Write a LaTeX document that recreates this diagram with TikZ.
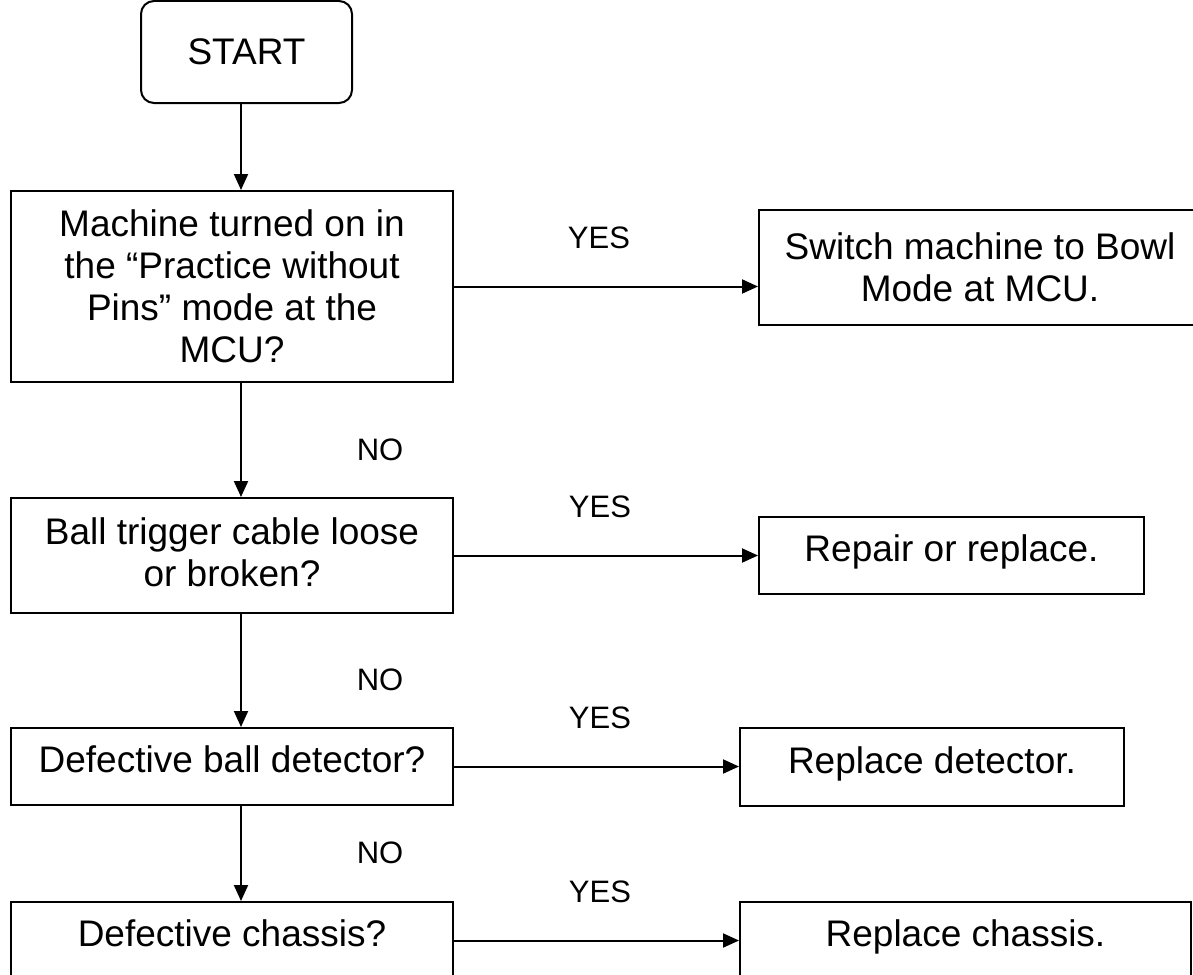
\documentclass[tikz,border=0pt]{standalone}
\usepackage{fontspec}
\setmainfont{Liberation Sans}
\usetikzlibrary{arrows.meta}
\begin{document}
\begin{tikzpicture}[x=1pt,y=-1pt,
  box/.style={draw, line width=2pt, inner sep=0pt, align=center,
    font=\fontsize{37}{42}\selectfont},
  one/.style={text height=30pt, text depth=18pt},
  lbl/.style={inner sep=0pt, font=\fontsize{31}{36}\selectfont},
  arr/.style={line width=2pt, -{Triangle[length=16pt,width=14pt]}}]
\useasboundingbox (0,0) rectangle (1193,974);
\begin{scope}
\clip (0,0) rectangle (1193,974);
\node[box, rounded corners=13pt, minimum width=211pt, minimum height=102pt] (start) at (246.5,52) {START};
\node[box, minimum width=442pt, minimum height=191pt] (b1) at (232,286.5)
  {Machine turned on in\\the “Practice without\\Pins” mode at the\\MCU?};
\node[box, minimum width=442pt, minimum height=115pt] (sw) at (980,267.5)
  {Switch machine to Bowl\\Mode at MCU.};
\node[box, minimum width=442pt, minimum height=115pt] (b2) at (232,555.5)
  {Ball trigger cable loose\\or broken?\rule[-6pt]{0pt}{6pt}};
\node[box, one, minimum width=385pt, minimum height=77pt] (r2) at (951.5,555.5)
  {Repair or replace.};
\node[box, one, minimum width=442pt, minimum height=77pt] (b3) at (232,766.5)
  {Defective ball detector?};
\node[box, one, minimum width=384pt, minimum height=78pt] (r3) at (932,767)
  {Replace detector.};
\node[box, one, minimum width=442pt, minimum height=77pt] (b4) at (232,940.5)
  {Defective chassis?};
\node[box, one, minimum width=451pt, minimum height=77pt] (r4) at (965.5,940.5)
  {Replace chassis.};

\draw[arr] ([xshift=-5.5pt]start.south) -- ([xshift=9pt]b1.north);
\draw[arr] (b1.east) -- (b1.east -| sw.west);
\draw[arr] ([xshift=9pt]b1.south) -- ([xshift=9pt]b2.north);
\draw[arr] (b2.east) -- (r2.west);
\draw[arr] ([xshift=9pt]b2.south) -- ([xshift=9pt]b3.north);
\draw[arr] (b3.east) -- (b3.east -| r3.west);
\draw[arr] ([xshift=9pt]b3.south) -- ([xshift=9pt]b4.north);
\draw[arr] (b4.east) -- (r4.west);

\node[lbl] (y1) at (599,238) {YES};
\node[lbl] (n1) at (380,450) {NO};
\node[lbl] (y2) at (600,507) {YES};
\node[lbl] (n2) at (380,680) {NO};
\node[lbl] (y3) at (600,718) {YES};
\node[lbl] (n3) at (380,853) {NO};
\node[lbl] (y4) at (600,892) {YES};
\end{scope}
\end{tikzpicture}
\end{document}
